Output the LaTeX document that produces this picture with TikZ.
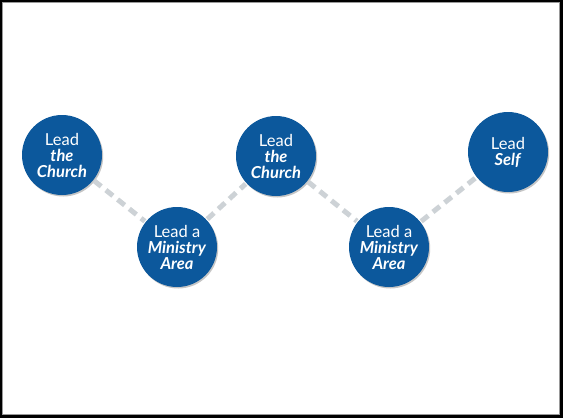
\documentclass[tikz,border=0pt]{standalone}
\usepackage{fontspec}
\setmainfont{Lato}
\usepackage{xcolor}
\usetikzlibrary{shadows}
\definecolor{leadblue}{RGB}{12,88,156}
\definecolor{linkgray}{RGB}{205,210,214}
\tikzset{
  lead/.style={circle, fill=leadblue, text=white, minimum size=80pt, inner sep=0pt, align=center,
    font=\fontsize{16.5}{16}\selectfont,
    drop shadow={shadow xshift=1.2pt, shadow yshift=-1.5pt, fill=black!45, opacity=0.5}},
  link/.style={linkgray, line width=5pt, dash pattern=on 9pt off 6pt, shorten <=1pt, shorten >=1pt}
}
\newcommand{\bi}[1]{\textbf{\textit{#1}}}
\begin{document}
\begin{tikzpicture}[x=1pt,y=-1pt]
\useasboundingbox (0,0) rectangle (563,418);
\fill[black] (0,0) rectangle (563,418);
\filldraw[white, draw=black!40, line width=0.6pt] (2,2) rectangle (559,414);

\node[lead] (churchA) at (62,155) {Lead\\\bi{the}\\\bi{Church}};
\node[lead] (areaA) at (177,247) {Lead a\\\bi{Ministry}\\\bi{Area}};
\node[lead] (churchB) at (276,156) {Lead\\\bi{the}\\\bi{Church}};
\node[lead] (areaB) at (389,247) {Lead a\\\bi{Ministry}\\\bi{Area}};
\node[lead] (self) at (508,152) {Lead\\\bi{Self}};

\draw[link] (churchA) -- (areaA);
\draw[link] (areaA) -- (churchB);
\draw[link] (churchB) -- (areaB);
\draw[link] (areaB) -- (self);
\end{tikzpicture}
\end{document}
